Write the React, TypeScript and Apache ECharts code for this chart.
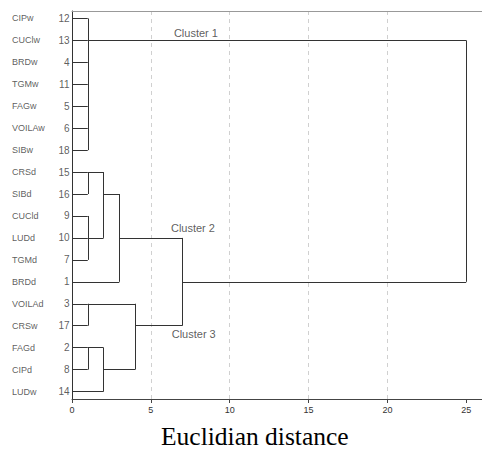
import React, { useEffect, useRef } from "react";
import * as echarts from "echarts";

// Leaves in dendrogram order (top to bottom)
const leafNames = ["CIPw", "CUClw", "BRDw", "TGMw", "FAGw", "VOILAw", "SIBw", "CRSd", "SIBd", "CUCld", "LUDd", "TGMd", "BRDd", "VOILAd", "CRSw", "FAGd", "CIPd", "LUDw"];
const leafIds = [12, 13, 4, 11, 5, 6, 18, 15, 16, 9, 10, 7, 1, 3, 17, 2, 8, 14];

// Merges: children ("L<row>" = leaf, "M<index>" = earlier merge), rescaled distance, row where the joined branch leaves
const mergeChildren = [
  ["L0", "L1", "L2", "L3", "L4", "L5", "L6"],
  ["L7", "L8"],
  ["L9", "L10", "L11"],
  ["M1", "M2"],
  ["M3", "L12"],
  ["L13", "L14"],
  ["L15", "L16"],
  ["M6", "L17"],
  ["M5", "M7"],
  ["M4", "M8"],
  ["M0", "M9"],
];
const mergeDist = [1, 1, 1, 2, 3, 1, 1, 2, 4, 7, 25];
const mergeRow = [1, 7, 10, 8, 10, 13, 15, 16, 14, 12, 6];

const clusterNames = ["Cluster 1", "Cluster 2", "Cluster 3"];
const clusterX = [7.86, 7.67, 7.72];
const clusterRow = [0.66, 9.57, 14.4];

const xTicks = [0, 5, 10, 15, 20, 25];

function buildSegments() {
  const segs: number[][][] = [];
  const info = (c: string) => {
    const k = parseInt(c.slice(1), 10);
    if (c[0] === "L") return { row: k, dist: 0 };
    return { row: mergeRow[k], dist: mergeDist[k] };
  };
  mergeChildren.forEach((children, i) => {
    const d = mergeDist[i];
    const rows = children.map((c) => info(c).row);
    segs.push([[d, Math.min(...rows)], [d, Math.max(...rows)]]);
    children.forEach((c) => {
      const ci = info(c);
      segs.push([[ci.dist, ci.row], [d, ci.row]]);
    });
  });
  return segs;
}

export default function App() {
  const ref = useRef<HTMLDivElement>(null);
  useEffect(() => {
    document.body.style.margin = "0";
    const chart = echarts.init(ref.current!, null, { renderer: "svg" });
    const segs = buildSegments();
    const font = "Liberation Sans";
    chart.setOption({
      animation: false,
      backgroundColor: "#fff",
      grid: { left: 72, width: 410, top: 11, bottom: 51 },
      xAxis: [
        {
          type: "value",
          min: 0,
          max: 26,
          interval: 5,
          position: "bottom",
          axisLine: { show: true, onZero: false, lineStyle: { color: "#444", width: 1 } },
          axisTick: { show: true, length: 4, lineStyle: { color: "#444" }, customValues: xTicks },
          axisLabel: {
            show: true,
            color: "#333",
            fontSize: 9,
            fontFamily: font,
            margin: 6,
            customValues: xTicks,
            formatter: (v: number) => (xTicks.includes(v) ? String(v) : ""),
          },
          splitLine: { show: true, showMinLine: false, showMaxLine: false, lineStyle: { color: "#d0d0d0", type: [4, 4], width: 1 } },
        },
        {
          type: "value",
          min: 0,
          max: 26,
          position: "top",
          axisLine: { show: true, onZero: false, lineStyle: { color: "#999", width: 1 } },
          axisTick: { show: false },
          axisLabel: { show: false },
          splitLine: { show: false },
        },
      ],
      yAxis: {
        type: "value",
        inverse: true,
        min: -0.34,
        max: 17.34,
        axisLine: { show: true, onZero: false, lineStyle: { color: "#333", width: 1 } },
        axisTick: { show: false },
        axisLabel: { show: false },
        splitLine: { show: false },
      },
      series: [
        {
          type: "lines",
          coordinateSystem: "cartesian2d",
          xAxisIndex: 0,
          polyline: false,
          silent: true,
          lineStyle: { color: "#333", width: 1, opacity: 1 },
          data: segs.map((s) => ({ coords: s })),
        },
        {
          type: "scatter",
          xAxisIndex: 0,
          symbolSize: 1,
          itemStyle: { color: "transparent" },
          silent: true,
          data: leafIds.map((id, r) => [0, r, id]),
          label: {
            show: true,
            position: "left",
            distance: 2,
            color: "#333",
            fontSize: 10,
            fontFamily: font,
            formatter: (p: any) => String(p.value[2]),
          },
        },
        {
          type: "scatter",
          xAxisIndex: 0,
          symbolSize: 1,
          itemStyle: { color: "transparent" },
          silent: true,
          data: leafNames.map((n, r) => [0, r, n]),
          label: {
            show: true,
            position: "inside",
            align: "left",
            offset: [-60, 0],
            color: "#333",
            fontSize: 9,
            fontFamily: font,
            formatter: (p: any) => String(p.value[2]),
          },
        },
        {
          type: "scatter",
          xAxisIndex: 0,
          symbolSize: 1,
          itemStyle: { color: "transparent" },
          silent: true,
          data: clusterNames.map((n, i) => [clusterX[i], clusterRow[i], n]),
          label: {
            show: true,
            position: "inside",
            align: "center",
            color: "#333",
            fontSize: 11,
            fontFamily: font,
            formatter: (p: any) => String(p.value[2]),
          },
        },
      ],
      graphic: [
        {
          type: "text",
          left: 161,
          top: 423,
          style: {
            text: "Euclidian distance",
            fill: "#000",
            fontSize: 25.5,
            lineHeight: 20,
            fontFamily: "Liberation Serif",
          },
        },
      ],
    });
    return () => chart.dispose();
  }, []);
  return <div ref={ref} style={{ position: "absolute", left: 0, top: 0, width: 482, height: 450 }} />;
}
